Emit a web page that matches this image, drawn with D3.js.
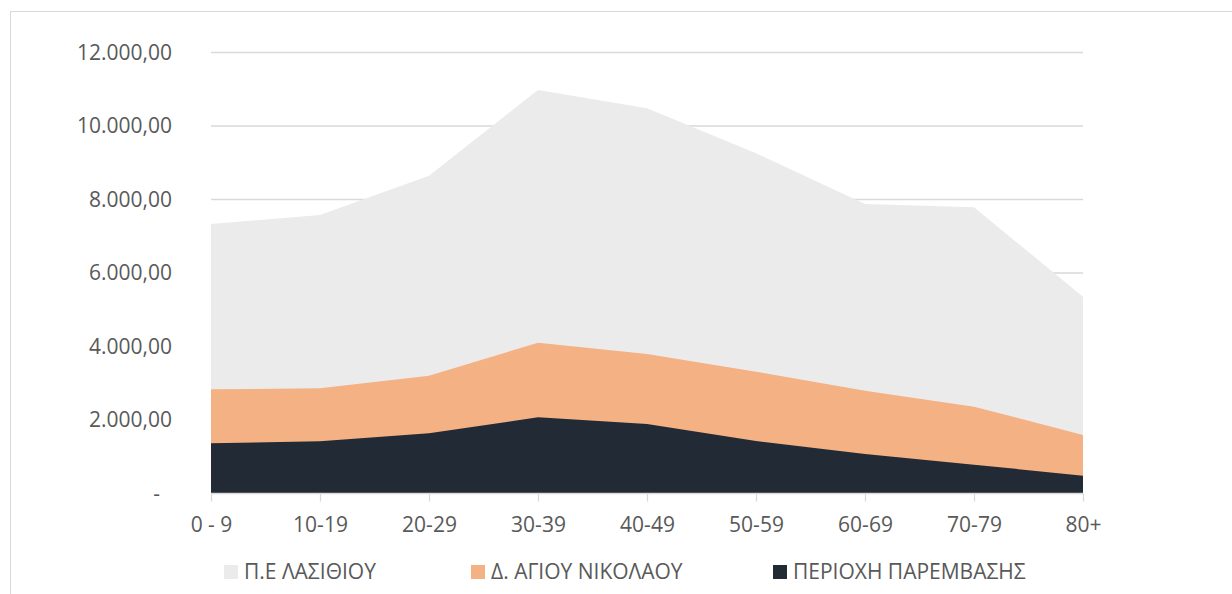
<!DOCTYPE html>
<html>
<head>
<meta charset="utf-8">
<script src="https://cdn.jsdelivr.net/npm/d3@7"></script>
<style>
  html, body { margin: 0; padding: 0; background: #fff; }
  svg { display: block; font-family: "Open Sans", sans-serif; }
</style>
</head>
<body>
<svg id="chart" width="1232" height="594"></svg>
<script>
const categories = ["0 - 9", "10-19", "20-29", "30-39", "40-49", "50-59", "60-69", "70-79", "80+"];
const seriesNames = ["Π.Ε ΛΑΣΙΘΙΟΥ", "Δ. ΑΓΙΟΥ ΝΙΚΟΛΑΟΥ", "ΠΕΡΙΟΧΗ ΠΑΡΕΜΒΑΣΗΣ"];
const lasithi = [7333, 7578, 8648, 10980, 10481, 9257, 7878, 7788, 5355];
const agiosNikolaos = [2835, 2862, 3206, 4104, 3796, 3315, 2798, 2362, 1592];
const periochi = [1365, 1420, 1637, 2073, 1891, 1429, 1075, 784, 485];
const yTicks = [0, 2000, 4000, 6000, 8000, 10000, 12000];
const colors = ["#ebebeb", "#f4b183", "#222a35"];

const series = [lasithi, agiosNikolaos, periochi];

const svg = d3.select("#chart");

// chart frame
svg.append("rect")
  .attr("x", 10.5).attr("y", 11.5)
  .attr("width", 1400).attr("height", 800)
  .attr("fill", "none").attr("stroke", "#d9d9d9").attr("stroke-width", 1);

const x = d3.scalePoint().domain(categories).range([211, 1083]);
const y = d3.scaleLinear().domain([0, 12000]).range([493.5, 52.5]);

const loc = d3.formatLocale({ decimal: ",", thousands: ".", grouping: [3], currency: ["", "€"] });
const fmt = loc.format(",.2f");

// gridlines
svg.append("g").selectAll("line")
  .data(yTicks.filter(d => d > 0))
  .join("line")
  .attr("x1", 211).attr("x2", 1083)
  .attr("y1", d => y(d)).attr("y2", d => y(d))
  .attr("stroke", "#d9d9d9").attr("stroke-width", 1.3);

// areas
const area = d3.area()
  .x((d, i) => x(categories[i]))
  .y0(y(0))
  .y1(d => y(d));

svg.append("g").selectAll("path")
  .data(series)
  .join("path")
  .attr("d", d => area(d))
  .attr("fill", (d, i) => colors[i]);

// y axis labels
const yAxis = d3.axisLeft(y).tickValues(yTicks)
  .tickFormat(d => d === 0 ? "-" : fmt(d))
  .tickSize(0).tickPadding(0);
const gy = svg.append("g").attr("transform", "translate(172,0)").call(yAxis);
gy.select(".domain").remove();
gy.selectAll("text")
  .attr("fill", "#595959").style("font-size", "21px").style("font-family", "'Open Sans', sans-serif");
gy.selectAll(".tick").filter(d => d === 0).select("text").attr("dx", -12);

// x axis
const xAxis = d3.axisBottom(x).tickSize(8).tickPadding(16).tickSizeOuter(0);
const gx = svg.append("g").attr("transform", `translate(0,${y(0)})`).call(xAxis);
gx.select(".domain").attr("stroke", "#d9d9d9").attr("stroke-width", 1.3).attr("d", "M211,0H1083");
gx.selectAll(".tick line").attr("stroke", "#d9d9d9").attr("stroke-width", 1.3);
gx.selectAll("text")
  .attr("fill", "#595959").style("font-size", "21px").style("font-family", "'Open Sans', sans-serif");

// legend
const legendX = [224, 471, 773];
const lg = svg.append("g").selectAll("g")
  .data(seriesNames)
  .join("g")
  .attr("transform", (d, i) => `translate(${legendX[i]},565)`);
lg.append("rect").attr("width", 14).attr("height", 14).attr("fill", (d, i) => colors[i]);
lg.append("text")
  .attr("x", 20).attr("y", 14)
  .attr("fill", "#595959").style("font-size", "21px")
  .text(d => d);
</script>
</body>
</html>
